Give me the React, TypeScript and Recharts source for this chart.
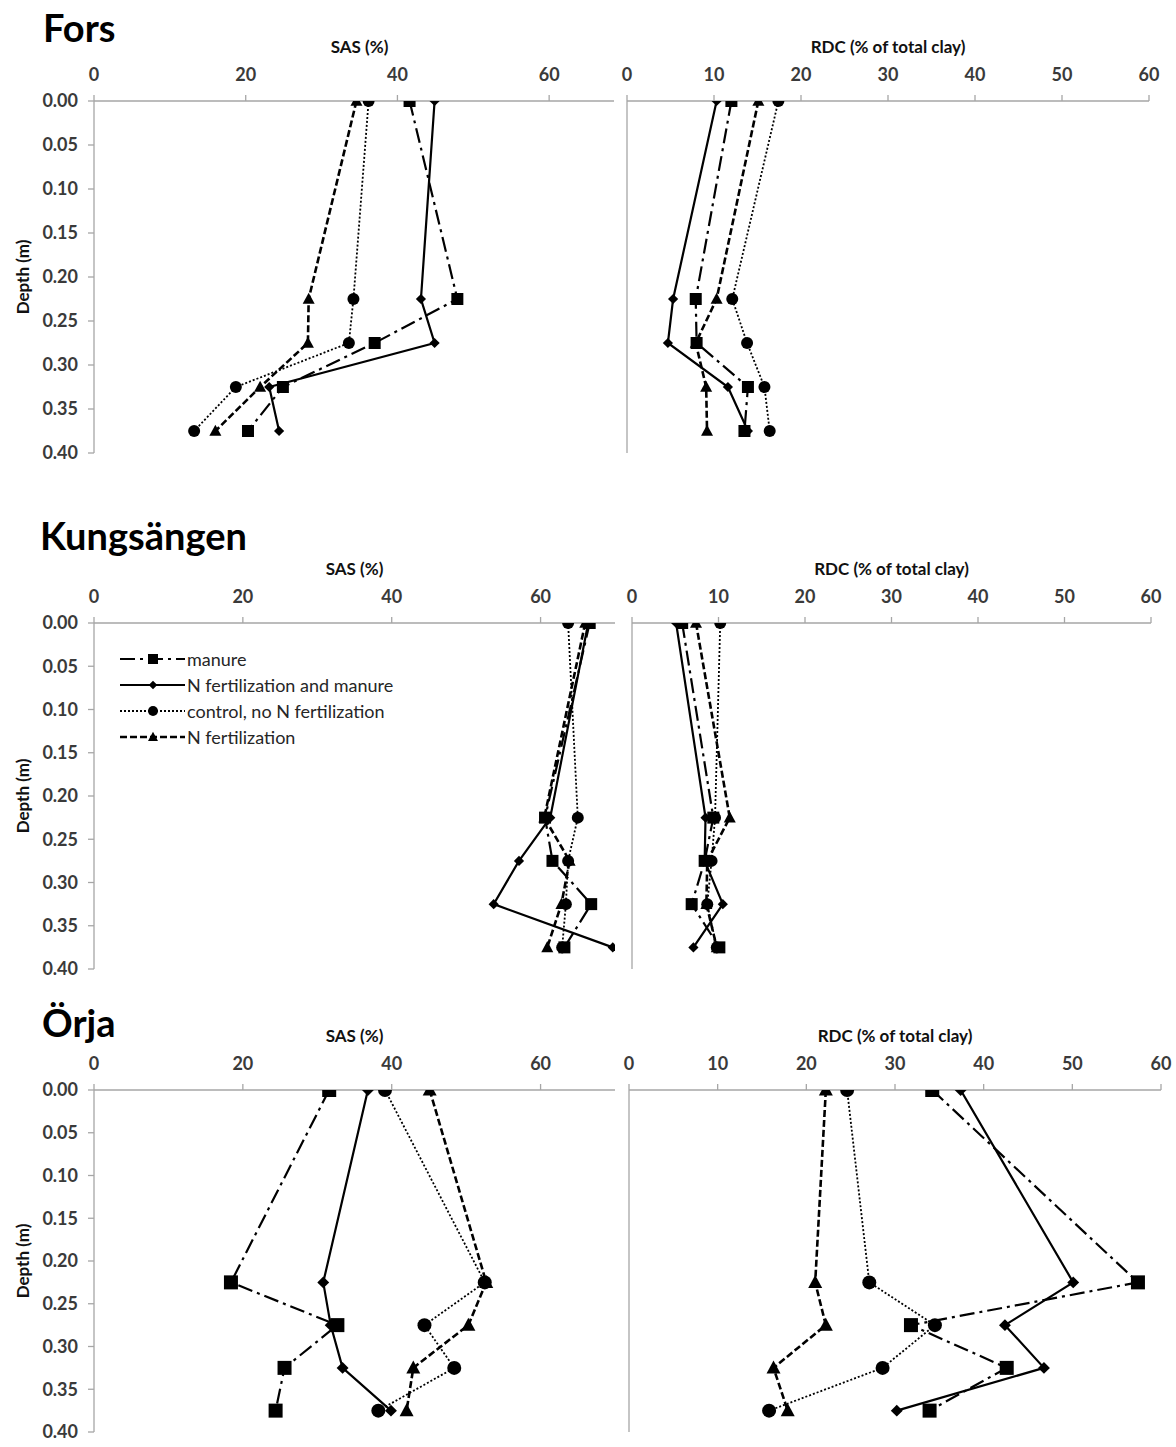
import React from "react";
import { LineChart, Line, XAxis, YAxis, Legend } from "recharts";

// depth of each sampling layer (m)
const depths = [0, 0.225, 0.275, 0.325, 0.375];
const depthTicks = [0, 0.05, 0.1, 0.15, 0.2, 0.25, 0.3, 0.35, 0.4];
const sasTicks = [0, 20, 40, 60];
const rdcTicks = [0, 10, 20, 30, 40, 50, 60];

// Fors
const forsSasManure = [41.6, 47.9, 37.0, 24.9, 20.3];
const forsSasNfm = [44.9, 43.1, 44.9, 23.1, 24.4];
const forsSasControl = [36.2, 34.2, 33.6, 18.7, 13.2];
const forsSasNfert = [34.6, 28.3, 28.2, 21.9, 16.0];
const forsRdcManure = [12.0, 7.9, 8.0, 13.9, 13.5];
const forsRdcNfm = [10.3, 5.3, 4.7, 11.6, 13.9];
const forsRdcControl = [17.4, 12.1, 13.8, 15.8, 16.4];
const forsRdcNfert = [15.1, 10.3, 7.9, 9.1, 9.2];

// Kungsängen
const kungSasManure = [66.6, 60.6, 61.6, 66.8, 63.2];
const kungSasNfm = [66.4, 61.3, 57.1, 53.7, 69.7];
const kungSasControl = [63.7, 65.0, 63.7, 63.4, 62.9];
const kungSasNfert = [66.0, 60.5, 63.9, 62.8, 60.9];
const kungRdcManure = [5.8, 9.4, 8.4, 6.9, 10.1];
const kungRdcNfm = [5.1, 8.5, 8.4, 10.5, 7.1];
const kungRdcControl = [10.2, 9.6, 9.2, 8.7, 9.8];
const kungRdcNfert = [7.4, 11.3, 8.7, 8.6, 9.8];

// Örja
const orjaSasManure = [31.6, 18.4, 32.7, 25.6, 24.4];
const orjaSasNfm = [36.8, 30.8, 31.8, 33.4, 39.9];
const orjaSasControl = [39.1, 52.5, 44.4, 48.4, 38.2];
const orjaSasNfert = [45.1, 52.7, 50.3, 42.9, 42.0];
const orjaRdcManure = [34.2, 57.4, 31.8, 42.6, 33.9];
const orjaRdcNfm = [37.4, 50.1, 42.4, 46.8, 30.2];
const orjaRdcControl = [24.6, 27.1, 34.5, 28.6, 15.8];
const orjaRdcNfert = [22.2, 21.0, 22.2, 16.3, 17.9];

const FONT = "Lato, 'DejaVu Sans', sans-serif";
const AXIS = "#a6a6a6";
const TICK = "#3a3a3a";

type Shape = "square" | "diamond" | "circle" | "triangle";

const treatments: { key: string; name: string; dash?: string; width: number; shape: Shape }[] = [
  { key: "manure", name: "manure", dash: "15 5 3 5", width: 2.2, shape: "square" },
  { key: "nfm", name: "N fertilization and manure", width: 2.2, shape: "diamond" },
  { key: "control", name: "control, no N fertilization", dash: "2 2", width: 1.8, shape: "circle" },
  { key: "nfert", name: "N fertilization", dash: "7 3", width: 2.6, shape: "triangle" },
];

function rows(manure: number[], nfm: number[], control: number[], nfert: number[]) {
  return depths.map((depth, i) => ({
    depth,
    manure: manure[i],
    nfm: nfm[i],
    control: control[i],
    nfert: nfert[i],
  }));
}

function Marker({ cx, cy, shape, size }: { cx?: number; cy?: number; shape: Shape; size: number }) {
  if (cx == null || cy == null) return null;
  const h = size / 2;
  if (shape === "square") return <rect x={cx - h} y={cy - h} width={size} height={size} fill="#000" />;
  if (shape === "circle") return <circle cx={cx} cy={cy} r={h} fill="#000" />;
  if (shape === "diamond") {
    const d = h * 0.85;
    return <polygon points={`${cx},${cy - d} ${cx + d},${cy} ${cx},${cy + d} ${cx - d},${cy}`} fill="#000" />;
  }
  return <polygon points={`${cx},${cy - h * 1.05} ${cx + h},${cy + h * 0.8} ${cx - h},${cy + h * 0.8}`} fill="#000" />;
}

function LegendBox({ payload }: any) {
  const items = treatments
    .map((t) => ({ t, p: (payload || []).find((p: any) => p.dataKey === t.key) }))
    .filter((d) => d.p);
  return (
    <div style={{ display: "flex", flexDirection: "column", fontFamily: FONT }}>
      {items.map(({ t, p }) => (
        <div key={t.key} style={{ display: "flex", alignItems: "center", height: 26 }}>
          <svg width={66} height={18}>
            <line x1={0} y1={9} x2={65} y2={9} stroke="#000" strokeWidth={t.width} strokeDasharray={t.dash} />
            <Marker cx={33} cy={9} shape={t.shape} size={10} />
          </svg>
          <span style={{ fontSize: 18, color: "#262626", marginLeft: 1, whiteSpace: "nowrap" }}>{p.value}</span>
        </div>
      ))}
    </div>
  );
}

type PanelProps = {
  data: ReturnType<typeof rows>;
  xMax: number;
  xTicks: number[];
  xTitle: string;
  left: number;
  top: number;
  plotW: number;
  plotH: number;
  depthLabels?: boolean;
  markerSize: number;
  legend?: boolean;
  clipRight?: number;
};

function Panel({ data, xMax, xTicks, xTitle, left, top, plotW, plotH, depthLabels, markerSize, legend, clipRight }: PanelProps) {
  const yW = depthLabels ? 94 : 20;
  const xH = 72;
  const width = yW + plotW + 24;
  const height = xH + plotH + 14;
  const chartLeft = left - yW;
  const chartTop = top - xH;
  return (
    <div
      style={{
        position: "absolute",
        left: chartLeft,
        top: chartTop,
        width: clipRight ? clipRight - chartLeft : width,
        height,
        overflow: "hidden",
      }}
    >
      <LineChart width={width} height={height} data={data} layout="vertical" margin={{ top: 0, right: 24, bottom: 14, left: 0 }}>
        <XAxis
          type="number"
          orientation="top"
          domain={[0, xMax]}
          ticks={xTicks}
          interval={0}
          allowDataOverflow
          height={xH}
          tickSize={6}
          tickMargin={14}
          stroke={AXIS}
          strokeWidth={1.3}
          tick={{ fill: TICK, fontSize: 18, fontWeight: 700, fontFamily: FONT }}
          label={{ value: xTitle, position: "insideTop", offset: 12, fill: "#111", fontSize: 17, fontWeight: 700, fontFamily: FONT }}
        />
        <YAxis
          type="number"
          dataKey="depth"
          domain={[0, 0.4]}
          ticks={depthTicks}
          interval={0}
          allowDataOverflow
          width={yW}
          tickSize={6}
          tickMargin={10}
          stroke={AXIS}
          strokeWidth={1.3}
          tick={depthLabels ? { fill: TICK, fontSize: 18, fontWeight: 700, fontFamily: FONT } : false}
          tickFormatter={(v: number) => v.toFixed(2)}
          label={
            depthLabels
              ? (p: any) => {
                  const vb = p.viewBox || {};
                  const cy = (vb.y ?? top - chartTop) + (vb.height ?? plotH) / 2;
                  return (
                    <text
                      x={22}
                      y={cy}
                      transform={`rotate(-90 22 ${cy})`}
                      textAnchor="middle"
                      dominantBaseline="central"
                      fontSize={17}
                      fontWeight={700}
                      fontFamily={FONT}
                      fill="#111"
                    >
                      Depth (m)
                    </text>
                  );
                }
              : undefined
          }
        />
        {legend && (
          <Legend
            layout="horizontal"
            verticalAlign="middle"
            align="center"
            content={<LegendBox />}
            wrapperStyle={{ left: 120, top: 95, width: "auto", height: "auto" }}
          />
        )}
        {treatments.map((t) => (
          <Line
            key={t.key}
            dataKey={t.key}
            name={t.name}
            stroke="#000"
            strokeWidth={t.width}
            strokeDasharray={t.dash}
            dot={(p: any) => <Marker key={`${t.key}-${p.index}`} cx={p.cx} cy={p.cy} shape={t.shape} size={markerSize} />}
            activeDot={false}
            isAnimationActive={false}
            legendType="line"
          />
        ))}
      </LineChart>
    </div>
  );
}

const titleStyle: React.CSSProperties = {
  position: "absolute",
  fontFamily: FONT,
  fontWeight: 700,
  fontSize: 38,
  lineHeight: 1,
  color: "#000",
  margin: 0,
};

export default function App() {
  return (
    <div style={{ position: "absolute", left: 0, top: 0, width: 1176, height: 1447, background: "#fff", fontFamily: FONT }}>
      <div style={{ ...titleStyle, left: 43, top: 8 }}>Fors</div>
      <div style={{ ...titleStyle, left: 40, top: 516 }}>Kungsängen</div>
      <div style={{ ...titleStyle, left: 42, top: 1003 }}>Örja</div>

      <Panel
        data={rows(forsSasManure, forsSasNfm, forsSasControl, forsSasNfert)}
        xMax={70}
        xTicks={sasTicks}
        xTitle="SAS (%)"
        left={94}
        top={101}
        plotW={531}
        plotH={352}
        depthLabels
        markerSize={12}
        clipRight={614}
      />
      <Panel
        data={rows(forsRdcManure, forsRdcNfm, forsRdcControl, forsRdcNfert)}
        xMax={60}
        xTicks={rdcTicks}
        xTitle="RDC (% of total clay)"
        left={627}
        top={101}
        plotW={522}
        plotH={352}
        markerSize={12}
      />

      <Panel
        data={rows(kungSasManure, kungSasNfm, kungSasControl, kungSasNfert)}
        xMax={70}
        xTicks={sasTicks}
        xTitle="SAS (%)"
        left={94}
        top={623}
        plotW={521}
        plotH={346}
        depthLabels
        markerSize={12}
        legend
      />
      <Panel
        data={rows(kungRdcManure, kungRdcNfm, kungRdcControl, kungRdcNfert)}
        xMax={60}
        xTicks={rdcTicks}
        xTitle="RDC (% of total clay)"
        left={632}
        top={623}
        plotW={519}
        plotH={346}
        markerSize={12}
      />

      <Panel
        data={rows(orjaSasManure, orjaSasNfm, orjaSasControl, orjaSasNfert)}
        xMax={70}
        xTicks={sasTicks}
        xTitle="SAS (%)"
        left={94}
        top={1090}
        plotW={521}
        plotH={342}
        depthLabels
        markerSize={14}
      />
      <Panel
        data={rows(orjaRdcManure, orjaRdcNfm, orjaRdcControl, orjaRdcNfert)}
        xMax={60}
        xTicks={rdcTicks}
        xTitle="RDC (% of total clay)"
        left={629}
        top={1090}
        plotW={532}
        plotH={342}
        markerSize={14}
      />
    </div>
  );
}
